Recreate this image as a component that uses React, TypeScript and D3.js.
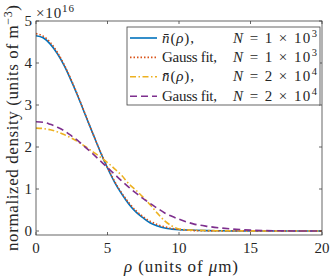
import React, { useEffect } from 'react';
import * as d3 from 'd3';

// radial positions (units of um) and densities (units of 1e16 m^-3)
const rho = [0, 0.5, 1, 1.5, 2, 2.5, 3, 3.5, 4, 4.5, 5, 5.5, 6, 6.5, 7, 7.5, 8, 8.5, 9, 9.5, 10, 10.5, 11, 12, 13, 14, 15, 16, 17, 18, 20];
const nbar1e3 = [4.65, 4.6, 4.45, 4.22, 3.92, 3.55, 3.15, 2.72, 2.3, 1.88, 1.5, 1.16, 0.88, 0.64, 0.45, 0.31, 0.19, 0.12, 0.07, 0.045, 0.03, 0.025, 0.02, 0.01, 0.005, 0, 0, 0, 0, 0, 0];
const gauss1e3 = [4.7, 4.64, 4.49, 4.25, 3.94, 3.57, 3.16, 2.73, 2.3, 1.89, 1.51, 1.18, 0.9, 0.67, 0.48, 0.34, 0.23, 0.15, 0.1, 0.06, 0.04, 0.02, 0.01, 0.004, 0.001, 0, 0, 0, 0, 0, 0];
const nbar2e4 = [2.45, 2.44, 2.41, 2.36, 2.29, 2.21, 2.11, 2.0, 1.88, 1.76, 1.63, 1.48, 1.32, 1.12, 0.97, 0.8, 0.62, 0.42, 0.24, 0.12, 0.05, 0.03, 0.02, 0.01, 0.007, 0.005, 0.003, 0.002, 0.001, 0, 0];
const gauss2e4 = [2.6, 2.59, 2.54, 2.47, 2.38, 2.26, 2.13, 1.98, 1.83, 1.67, 1.51, 1.35, 1.19, 1.04, 0.9, 0.77, 0.65, 0.54, 0.43, 0.35, 0.28, 0.22, 0.17, 0.11, 0.07, 0.04, 0.02, 0.01, 0.005, 0.002, 0];

const xTicks = [0, 5, 10, 15, 20];
const yTicks = [0, 1, 2, 3, 4, 5];

const series = [
  { label: 'nbar', N: '1', exp: '3', values: nbar1e3, color: '#0072BD', dash: '' },
  { label: 'Gauss fit,', N: '1', exp: '3', values: gauss1e3, color: '#D95319', dash: '1.5,2' },
  { label: 'nbar', N: '2', exp: '4', values: nbar2e4, color: '#EDB120', dash: '6,2.5,1.5,2.5' },
  { label: 'Gauss fit,', N: '2', exp: '4', values: gauss2e4, color: '#7E2F8E', dash: '7,4' },
];

const W = 332;
const H = 278;
const margin = { left: 36, right: 10, top: 21, bottom: 43 };
const axisColor = '#404040';
const textColor = '#262626';
const tf = { fontFamily: "'Liberation Serif'" };

export default function App() {
  useEffect(() => {
    document.body.style.margin = '0';
  }, []);

  const x = d3.scaleLinear().domain([0, 20]).range([margin.left, W - margin.right]);
  const y = d3.scaleLinear().domain([-0.095, 5]).range([H - margin.bottom, margin.top]);
  const line = d3.line<number>()
    .x((_, i) => x(rho[i]))
    .y(d => y(d))
    .curve(d3.curveMonotoneX);

  const x0 = x(0), x1 = x(20), yb = y(-0.095), yt = y(5);

  // legend geometry
  const lx = 127, ly = 27, lw = 193, lh = 78;
  const rowH = 19.4;

  return (
    <svg width={W} height={H} style={{ display: 'block', background: '#fff' }}>
      <style>{`text { font-family: 'Liberation Serif', serif; fill: ${textColor}; }`}</style>
      <defs>
        <clipPath id="plotArea">
          <rect x={x0} y={yt} width={x1 - x0} height={yb - yt} />
        </clipPath>
      </defs>

      {/* curves */}
      <g clipPath="url(#plotArea)">
        {series.map((s, i) => (
          <path key={i} d={line(s.values) || ''} fill="none" stroke={s.color}
            strokeWidth={1.6} strokeDasharray={s.dash || undefined} strokeLinejoin="round" />
        ))}
      </g>

      {/* axes box */}
      <rect x={x0} y={yt} width={x1 - x0} height={yb - yt} fill="none" stroke={axisColor} strokeWidth={0.8} />

      {/* ticks */}
      {xTicks.map(t => (
        <g key={'x' + t}>
          <line x1={x(t)} x2={x(t)} y1={yb} y2={yb - 3} stroke={axisColor} strokeWidth={0.8} />
          <line x1={x(t)} x2={x(t)} y1={yt} y2={yt + 3} stroke={axisColor} strokeWidth={0.8} />
          <text x={x(t)} y={253} textAnchor="middle" fontSize={15} style={tf}
            textLength={7.6 * String(t).length} lengthAdjust="spacing">{t}</text>
        </g>
      ))}
      {yTicks.map(t => (
        <g key={'y' + t}>
          <line x1={x0} x2={x0 + 3} y1={y(t)} y2={y(t)} stroke={axisColor} strokeWidth={0.8} />
          <line x1={x1} x2={x1 - 3} y1={y(t)} y2={y(t)} stroke={axisColor} strokeWidth={0.8} />
          <text x={32} y={y(t) + 5} textAnchor="end" fontSize={15} style={tf}
            textLength={7.6} lengthAdjust="spacing">{t}</text>
        </g>
      ))}

      {/* exponent */}
      <text x={36} y={18} fontSize={15} style={tf} textLength={38} lengthAdjust="spacing">
        ×10<tspan dy={-6} fontSize={11}>16</tspan>
      </text>

      {/* axis labels */}
      <text x={181} y={272} textAnchor="middle" fontSize={17} style={tf} textLength={114} lengthAdjust="spacing">
        <tspan fontStyle="italic">ρ</tspan> (units of <tspan fontStyle="italic">μ</tspan>m)
      </text>
      <text transform={`translate(18, ${(yt + yb) / 2}) rotate(-90)`} textAnchor="middle" fontSize={17} style={tf}
        textLength={246} lengthAdjust="spacing">
        normalized density (units of m<tspan dy={-6} fontSize={12}>−3</tspan><tspan dy={6}>)</tspan>
      </text>

      {/* legend */}
      <rect x={lx} y={ly} width={lw} height={lh} fill="#fff" stroke={axisColor} strokeWidth={0.8} />
      {series.map((s, i) => {
        const cy = ly + 11 + i * rowH;
        const isBar = s.label === 'nbar';
        return (
          <g key={'l' + i}>
            <line x1={130} x2={157} y1={cy} y2={cy} stroke={s.color} strokeWidth={1.6}
              strokeDasharray={s.dash || undefined} />
            <text x={162} y={cy + 4.5} fontSize={15} style={tf}
              textLength={isBar ? 32 : 55} lengthAdjust="spacing">
              {isBar
                ? <><tspan fontStyle="italic">{'n\u0304'}</tspan>(<tspan fontStyle="italic">ρ</tspan>),</>
                : s.label}
            </text>
            <text x={317} y={cy + 4.5} textAnchor="end" fontSize={15} style={tf}
              textLength={84} lengthAdjust="spacing">
              <tspan fontStyle="italic">N</tspan> = {s.N} × 10<tspan dy={-6} fontSize={10.5}>{s.exp}</tspan>
            </text>
          </g>
        );
      })}
    </svg>
  );
}
